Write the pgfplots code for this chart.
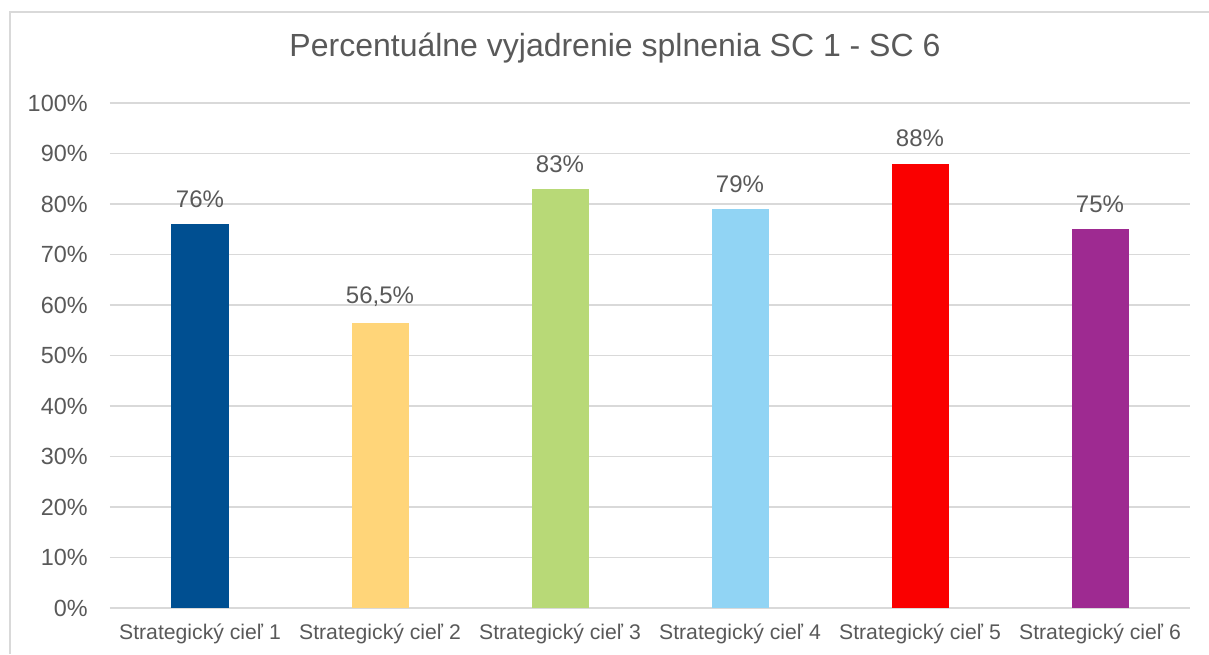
\documentclass[border=0pt]{standalone}
\usepackage{pgfplots}
\pgfplotsset{compat=1.18}
\usepackage{fontspec}
\setmainfont{Liberation Sans}

\definecolor{txt}{HTML}{595959}
\definecolor{gridc}{HTML}{D9D9D9}
\definecolor{c1}{HTML}{004F91}
\definecolor{c2}{HTML}{FFD579}
\definecolor{c3}{HTML}{B8D977}
\definecolor{c4}{HTML}{91D4F4}
\definecolor{c5}{HTML}{FA0000}
\definecolor{c6}{HTML}{9E2A91}

\begin{document}
\begin{tikzpicture}
\path[use as bounding box] (0,0) rectangle (604.5pt,327pt);
\begin{axis}[
  at={(55pt,23pt)}, anchor=south west,
  scale only axis,
  width=540pt, height=252.5pt,
  xmin=-0.5, xmax=5.5,
  ymin=0, ymax=100,
  axis line style={draw=none},
  major tick length=0pt,
  ymajorgrids,
  grid style={gridc, line width=0.6pt},
  ytick={0,10,...,100},
  yticklabels={0\%,10\%,20\%,30\%,40\%,50\%,60\%,70\%,80\%,90\%,100\%},
  xtick={0,...,5},
  xticklabels={Strategický cieľ 1,Strategický cieľ 2,Strategický cieľ 3,Strategický cieľ 4,Strategický cieľ 5,Strategický cieľ 6},
  yticklabel style={inner sep=0pt, anchor=east, xshift=-11pt, text=txt, font=\fontsize{11.7}{13}\selectfont},
  xticklabel style={inner sep=0pt, anchor=north, yshift=-7.5pt, text=txt, font=\fontsize{10.6}{12}\selectfont},
  ybar, bar width=28.5pt, bar shift=0pt,
  point meta=explicit symbolic,
  nodes near coords,
  nodes near coords style={anchor=south, inner sep=0pt, yshift=8pt, text=txt, font=\fontsize{12}{14}\selectfont},
  clip=false,
]
\addplot[fill=c1, draw=none] coordinates {(0,76) [76\%]};
\addplot[fill=c2, draw=none] coordinates {(1,56.5) [56,5\%]};
\addplot[fill=c3, draw=none] coordinates {(2,83) [83\%]};
\addplot[fill=c4, draw=none] coordinates {(3,79) [79\%]};
\addplot[fill=c5, draw=none] coordinates {(4,88) [88\%]};
\addplot[fill=c6, draw=none] coordinates {(5,75) [75\%]};
\end{axis}
\node[text=txt, font=\fontsize{16}{19}\selectfont] at (307.5pt,303pt) {Percentuálne vyjadrenie splnenia SC 1 - SC 6};
\draw[gridc, line width=0.8pt] (5pt,0pt) -- (5pt,321pt) -- (604.5pt,321pt);
\end{tikzpicture}
\end{document}
